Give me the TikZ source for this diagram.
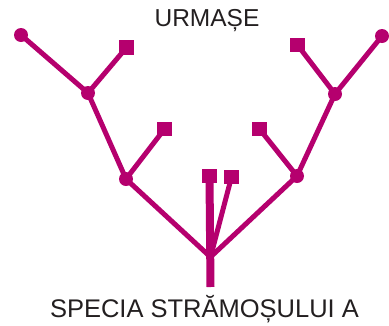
\documentclass[tikz,border=0pt]{standalone}
\usepackage{fontspec}
\setmainfont{Liberation Sans}
\definecolor{mag}{HTML}{B5006E}
\definecolor{txt}{HTML}{231F20}
\begin{document}
\begin{tikzpicture}[x=1pt,y=-1pt,
  dot/.style={circle,fill=mag,minimum size=14pt,inner sep=0pt},
  sq/.style={rectangle,fill=mag,minimum size=14.5pt,inner sep=0pt},
  branch/.style={draw=mag,line width=5pt},
  trunk/.style={draw=mag,line width=8pt},
  lbl/.style={text=txt,inner sep=0pt,anchor=base}]
\useasboundingbox (0,0) rectangle (389,325);
% nodes
\node[dot] (l2) at (88,93) {};
\node[dot] (l1) at (126,179) {};
\node[dot] (lt) at (21,35) {};
\node[sq] (ls1) at (126.5,47.5) {};
\node[sq] (ls2) at (164.5,129) {};
\node[dot] (r2) at (335,94) {};
\node[dot] (r1) at (297,176) {};
\node[dot] (rt) at (382,36) {};
\node[sq] (rs1) at (297.5,45) {};
\node[sq] (rs2) at (259.5,129) {};
\node[sq] (cs1) at (209.5,176) {};
\node[sq] (cs2) at (231.5,177) {};
\coordinate (root) at (210.5,257);
\coordinate (base) at (210.5,287);
% connectors
\draw[branch] (lt.center) -- (l2.center);
\draw[branch] (ls1.center) -- (l2.center);
\draw[branch] (l2.center) -- (l1.center);
\draw[branch] (ls2.center) -- (l1.center);
\draw[branch] (l1.center) -- (root);
\draw[branch] (rt.center) -- (r2.center);
\draw[branch] (rs1.center) -- (r2.center);
\draw[branch] (r2.center) -- (r1.center);
\draw[branch] (rs2.center) -- (r1.center);
\draw[branch] (r1.center) -- (root);
\draw[branch] (root) -- (cs2.center);
\draw[trunk] (base) -- (cs1.center);
% labels
\node[lbl,font=\fontsize{24.5}{28}\selectfont] (top) at (207,26) {URMAȘE};
\node[lbl,font=\fontsize{25.5}{29}\selectfont] (bottom) at (204.5,317) {SPECIA STRĂMOȘULUI A};
\end{tikzpicture}
\end{document}
